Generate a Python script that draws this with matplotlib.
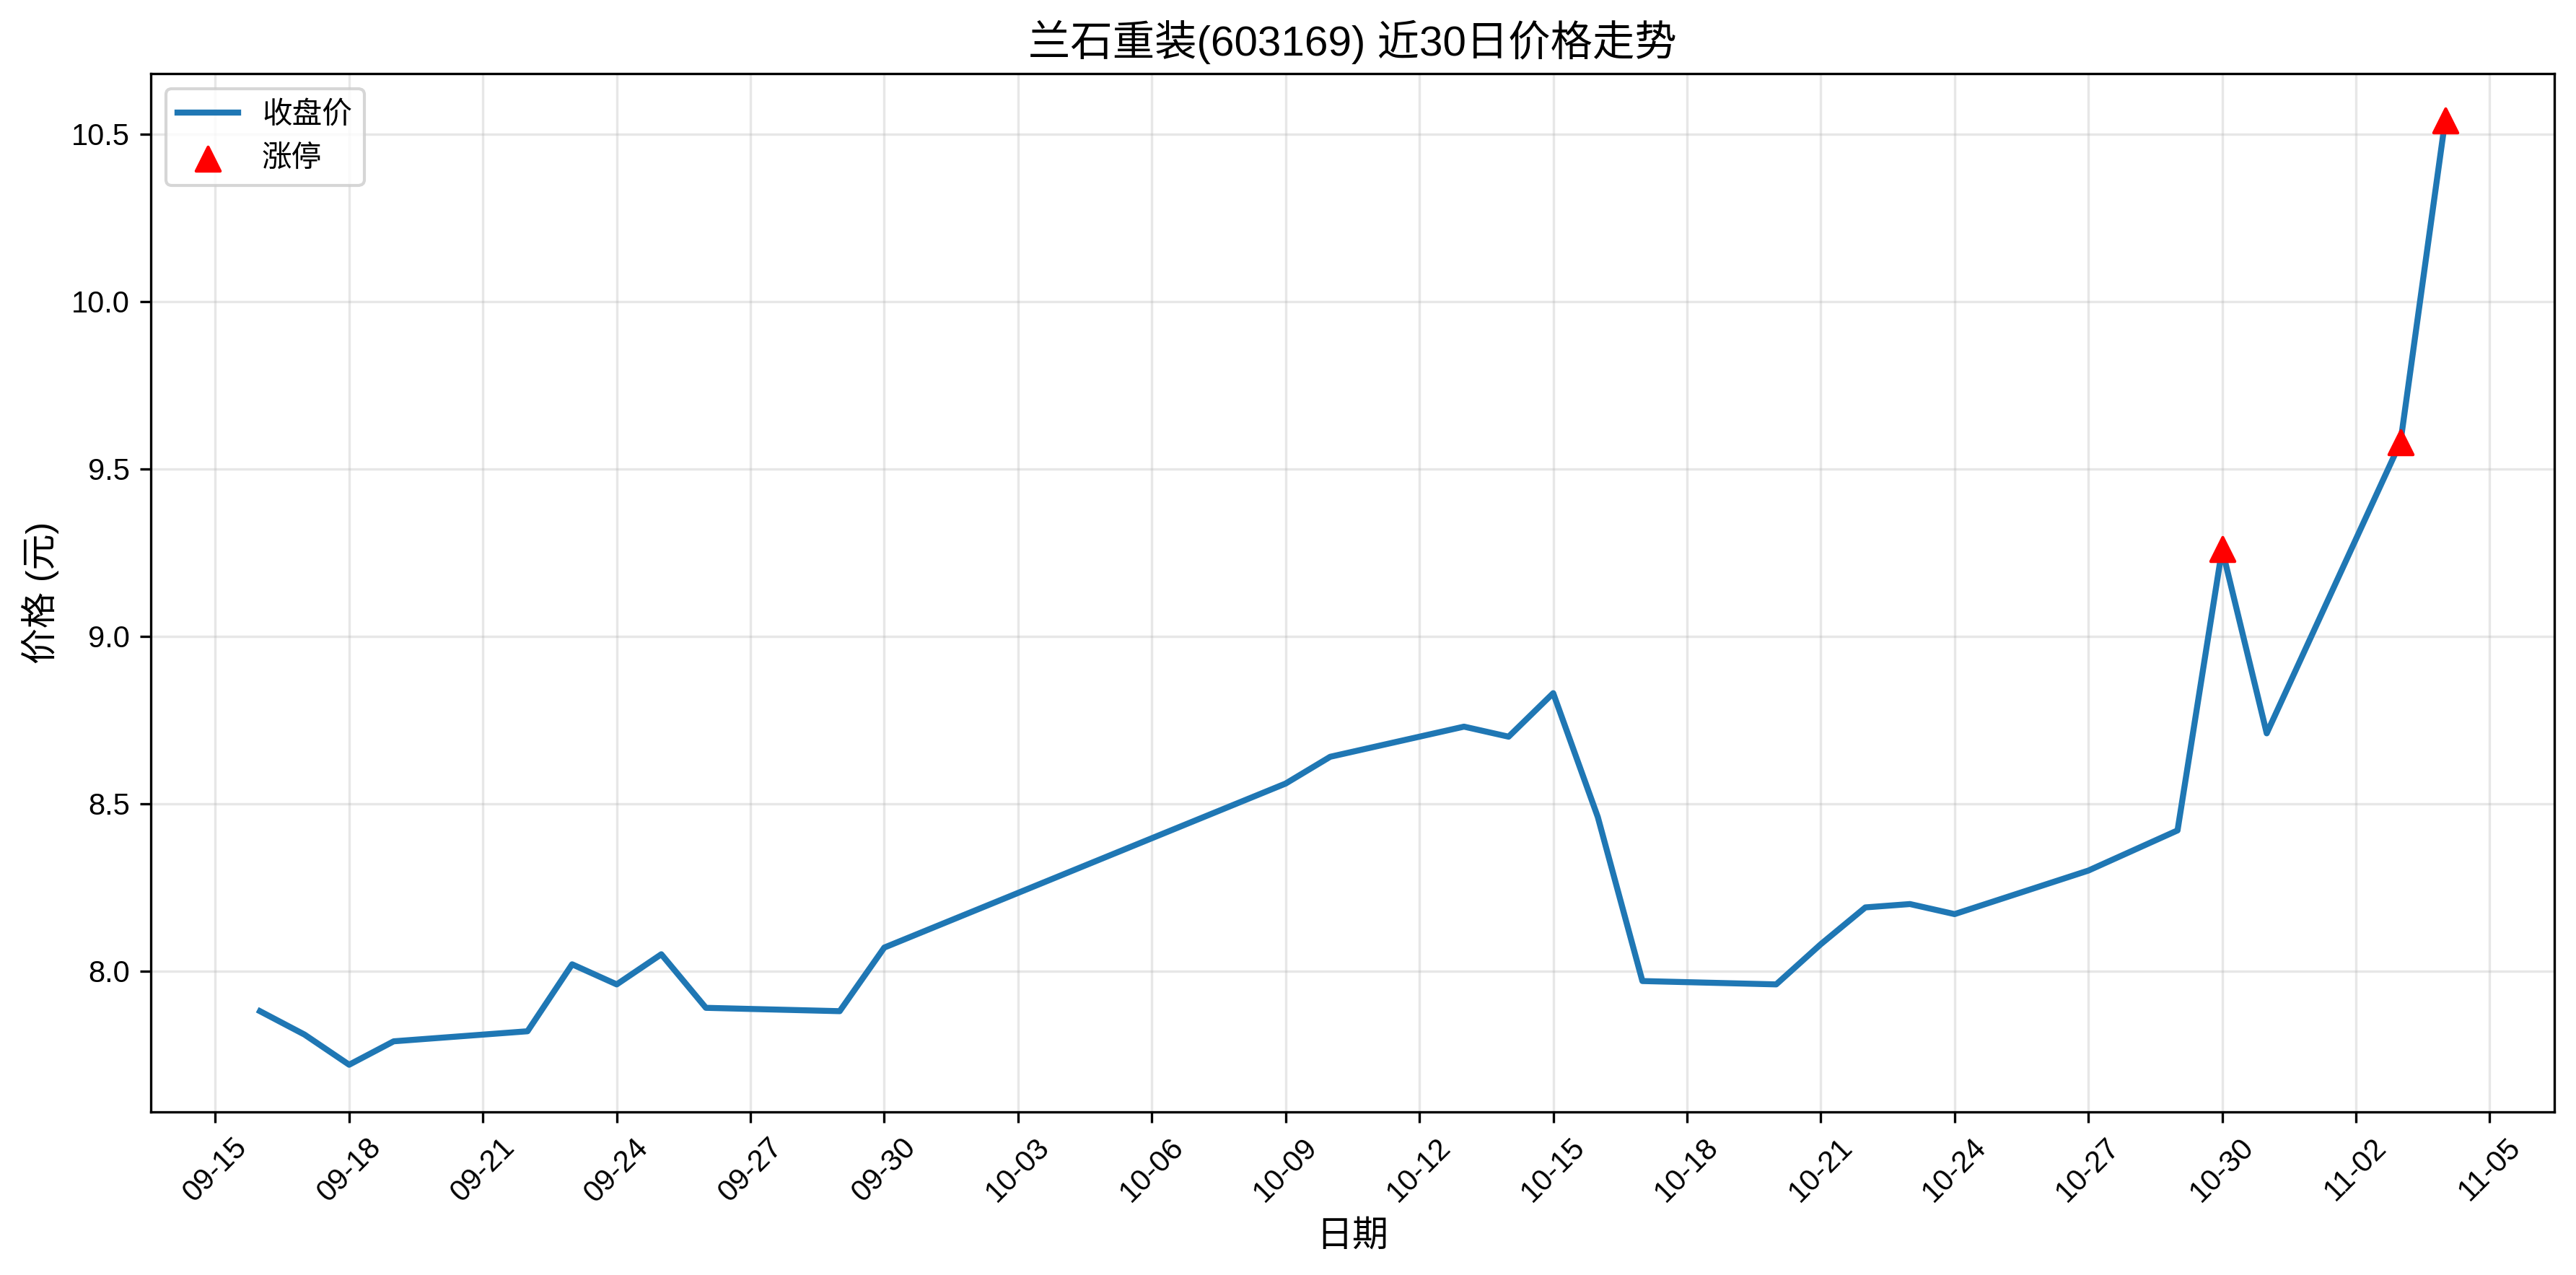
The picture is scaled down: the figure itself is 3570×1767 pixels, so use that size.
import matplotlib
matplotlib.use("Agg")
import matplotlib.pyplot as plt
import matplotlib.dates as mdates
import pandas as pd

plt.rcParams['font.family'] = ['Liberation Sans', 'Noto Sans CJK SC']
plt.rcParams['axes.unicode_minus'] = False

# closing prices, last 30 trading days
dates = ["2025-09-16", "2025-09-17", "2025-09-18", "2025-09-19",
         "2025-09-22", "2025-09-23", "2025-09-24", "2025-09-25", "2025-09-26",
         "2025-09-29", "2025-09-30",
         "2025-10-09", "2025-10-10",
         "2025-10-13", "2025-10-14", "2025-10-15", "2025-10-16", "2025-10-17",
         "2025-10-20", "2025-10-21", "2025-10-22", "2025-10-23", "2025-10-24",
         "2025-10-27", "2025-10-28", "2025-10-29", "2025-10-30", "2025-10-31",
         "2025-11-03", "2025-11-04"]
close = [7.88, 7.81, 7.72, 7.79,
         7.82, 8.02, 7.96, 8.05, 7.89,
         7.88, 8.07,
         8.56, 8.64,
         8.73, 8.70, 8.83, 8.46, 7.97,
         7.96, 8.08, 8.19, 8.20, 8.17,
         8.30, 8.36, 8.42, 9.26, 8.71,
         9.58, 10.54]

# limit-up days
limit_dates = ["2025-10-30", "2025-11-03", "2025-11-04"]
limit_close = [9.26, 9.58, 10.54]

x = pd.to_datetime(dates)
xl = pd.to_datetime(limit_dates)

fig, ax = plt.subplots(figsize=(11.9, 5.89), dpi=300)
fig.subplots_adjust(left=0.0585, right=0.9916, top=0.9423, bottom=0.1279)

ax.plot(x, close, color="#1f77b4", linewidth=2, label="收盘价")
ax.scatter(xl, limit_close, color="red", marker="^", s=64, zorder=5, label="涨停")

ax.set_title("兰石重装(603169) 近30日价格走势", fontsize=14)
ax.set_xlabel("日期", fontsize=12)
ax.set_ylabel("价格 (元)", fontsize=12)

ax.xaxis.set_major_locator(mdates.DayLocator(interval=3))
ax.xaxis.set_major_formatter(mdates.DateFormatter("%m-%d"))
plt.setp(ax.get_xticklabels(), rotation=45)

ax.grid(True, alpha=0.3)
ax.legend(loc="upper left")

fig.savefig("out.png", dpi=300)
